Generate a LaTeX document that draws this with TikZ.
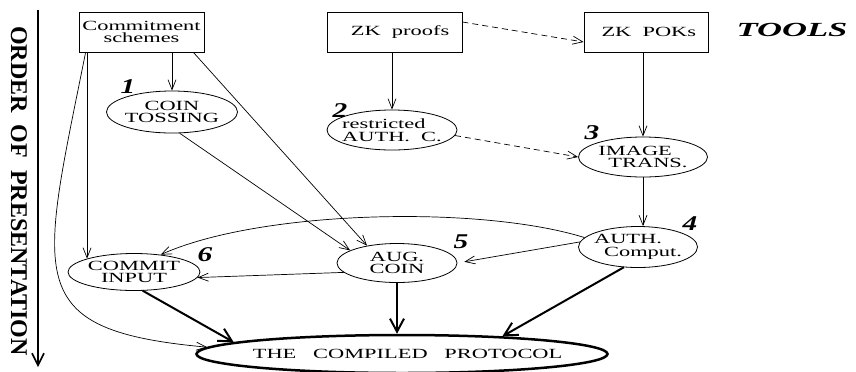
\documentclass[tikz,border=0pt]{standalone}
\usepackage{fontspec}
\setmainfont{Liberation Serif}
\newfontfamily\figfont[FakeStretch=1.6]{Liberation Serif}
\newfontfamily\bigfont[FakeStretch=1.73]{Liberation Serif}
\newfontfamily\numfont[FakeStretch=1.4]{Liberation Serif}
\usetikzlibrary{shapes.geometric,arrows.meta,positioning,calc}

\begin{document}
\begin{tikzpicture}[x=1bp, y=-1bp,
  box/.style={draw, rectangle, line width=0.8bp, inner sep=0pt, align=center, font=\figfont\fontsize{14bp}{12.5bp}\selectfont},
  oval/.style={draw, ellipse, line width=0.8bp, inner xsep=-6bp, inner ysep=0pt, align=center, font=\figfont\fontsize{14bp}{12.5bp}\selectfont},
  goal/.style={oval, line width=2.5bp, inner xsep=-15bp},
  num/.style={font=\numfont\bfseries\itshape\fontsize{21bp}{21bp}\selectfont, inner sep=0pt},
  dep/.style={draw, line width=0.7bp, -{Straight Barb[length=10bp,width=8bp]}},
  weak/.style={dep, dash pattern=on 6bp off 4bp},
  strong/.style={draw, line width=2bp, -{Straight Barb[length=13bp,width=14bp]}}
]
  \useasboundingbox (0,0) rectangle (856,371);

  % Order axis
  \coordinate (otop) at (38,10);
  \coordinate (obot) at (38,367);
  \draw [line width=1.6bp, -{Straight Barb[length=12bp,width=12bp]}] (otop) -- (obot);
  \node [rotate=-90, inner sep=0pt, font=\bfseries\fontsize{24bp}{24bp}\selectfont] (order) at (19,191) {ORDER\ \ OF\ \ PRESENTATION};

  % Tools
  \node [box, minimum width=125bp, minimum height=40bp] (cs) at (141.5,32) {Commitment\\schemes};
  \node [box, minimum width=135bp, minimum height=40bp] (zkp) at (394.5,32) {\ \ ZK\ \ proofs};
  \node [box, minimum width=124bp, minimum height=40bp] (zkpok) at (646,32) {\ ZK\ \ POKs};
  \node [inner sep=0pt, font=\bigfont\bfseries\itshape\fontsize{20bp}{20bp}\selectfont] (tools) at (792,30) {TOOLS};

  % Steps
  \node [oval, minimum width=131bp, minimum height=42bp] (coin) at (172,112) {COIN\\TOSSING};
  \node [oval, minimum width=130bp, minimum height=40bp, align=left] (rac) at (392,130) {restricted\\AUTH.\ \ C.};
  \node [oval, minimum width=129bp, minimum height=40bp, align=left] (img) at (643,157) {IMAGE\\\hspace{10bp}TRANS.};
  \node [oval, minimum width=119bp, minimum height=41bp, align=left] (auth) at (638,247) {AUTH.\\\hspace{10bp}Comput.};
  \node [oval, minimum width=120bp, minimum height=39bp] (aug) at (397,263) {AUG.\\COIN};
  \node [oval, minimum width=132bp, minimum height=37bp] (cin) at (134,272) {COMMIT\\INPUT};
  \node [goal, minimum width=400bp, minimum height=38bp] (prot) at (402,354) {\ \ THE\ \ \ COMPILED\ \ \ PROTOCOL};

  % Step numbers
  \node [num] (n1) at (128,87) {1};
  \node [num] (n2) at (340,111) {2};
  \node [num] (n3) at (592,133) {3};
  \node [num] (n4) at (690,224) {4};
  \node [num] (n5) at (461,242) {5};
  \node [num] (n6) at (205,255) {6};

  % Uses of commitments
  \draw [dep] (coin.north |- cs.south) -- (coin.north);
  \draw [dep] (cs.south -| cin.north west) -- (cin.north west);
  \draw [dep] ([xshift=-11bp]cs.south east) -- (aug.150);
  \draw [dep] ([xshift=7bp]cs.south west) .. controls (40,280) and (20,330) .. (prot.178);

  % Uses of ZK
  \draw [dep] (rac.north |- zkp.south) -- (rac.north);
  \draw [dep] (img.north |- zkpok.south) -- (img.north);
  \draw [weak] ([yshift=10bp]zkp.east) -- ([yshift=-10bp]zkpok.west);
  \draw [weak] (rac.-5) -- (img.west);

  % Between steps
  \draw [dep] (img.south) -- (img.south |- auth.north);
  \draw [dep] (coin.-70) -- (aug.165);
  \draw [dep, shorten >=7bp] (auth.175) -- (aug.east);
  \draw [dep] (auth.170) .. controls (480,205) and (260,210) .. (cin.33);
  \draw [dep] (aug.190) -- (cin.-5);

  % Into the protocol
  \draw [strong] (cin.-65) -- (prot.176);
  \draw [strong] (aug.south) -- (aug.south |- prot.north);
  \draw [strong] (auth.-125) -- (prot.10);

\end{tikzpicture}
\end{document}
